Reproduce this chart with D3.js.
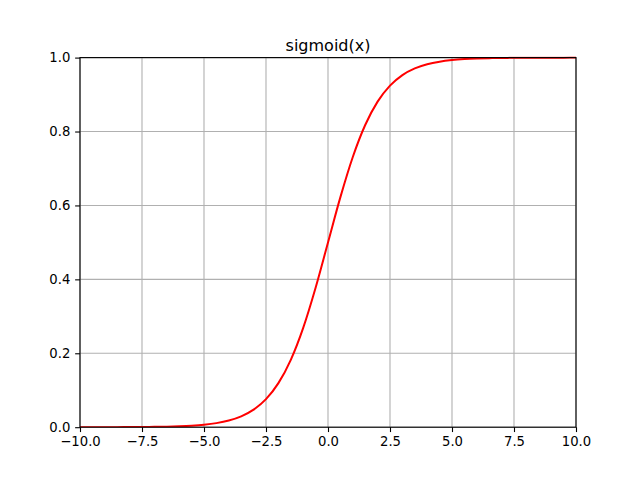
<!DOCTYPE html>
<html><head><meta charset="utf-8">
<script src="https://cdn.jsdelivr.net/npm/d3@7"></script>
<style>body{margin:0;background:#fff}svg{display:block}text{font-family:"DejaVu Sans",sans-serif}</style>
</head><body>
<script>
const xValues = [-10,-9.5,-9,-8.5,-8,-7.5,-7,-6.5,-6,-5.5,-5,-4.5,-4,-3.5,-3,-2.5,-2,-1.5,-1,-0.5,0,0.5,1,1.5,2,2.5,3,3.5,4,4.5,5,5.5,6,6.5,7,7.5,8,8.5,9,9.5,10];
const yValues = [0.00005,0.00007,0.00012,0.0002,0.00034,0.00055,0.00091,0.0015,0.0025,0.0041,0.0067,0.011,0.018,0.0293,0.0474,0.0759,0.1192,0.1824,0.2689,0.3775,0.5,0.6225,0.7311,0.8176,0.8808,0.9241,0.9526,0.9707,0.982,0.989,0.9933,0.9959,0.9975,0.9985,0.9991,0.9994,0.9997,0.9998,0.9999,0.9999,1.0];
const xTicks = [-10,-7.5,-5,-2.5,0,2.5,5,7.5,10];
const yTicks = [0,0.2,0.4,0.6,0.8,1.0];
const title = "sigmoid(x)";

const W=640,H=480, L=80,R=576,T=57.6,B=427.2;
const svg=d3.select("body").append("svg").attr("width",W).attr("height",H);
const x=d3.scaleLinear().domain([-10,10]).range([L,R]);
const y=d3.scaleLinear().domain([0,1]).range([B,T]);
const fmt=v=>(v<0?"\u2212":"")+Math.abs(v).toFixed(1);

// grid
svg.append("g").selectAll("line").data(xTicks).join("line")
 .attr("x1",d=>x(d)).attr("x2",d=>x(d)).attr("y1",T).attr("y2",B)
 .attr("stroke","#b0b0b0").attr("stroke-width",1.1);
svg.append("g").selectAll("line").data(yTicks).join("line")
 .attr("y1",d=>y(d)).attr("y2",d=>y(d)).attr("x1",L).attr("x2",R)
 .attr("stroke","#b0b0b0").attr("stroke-width",1.1);

svg.append("clipPath").attr("id","clip").append("rect").attr("x",L).attr("y",T-1).attr("width",R-L).attr("height",B-T+1);
const data=xValues.map((v,i)=>[v,yValues[i]]);
svg.append("path").datum(data).attr("clip-path","url(#clip)")
 .attr("d",d3.line().x(d=>x(d[0])).y(d=>y(d[1])).curve(d3.curveMonotoneX))
 .attr("fill","none").attr("stroke","red").attr("stroke-width",2);

const xa=svg.append("g").attr("transform",`translate(0,${B})`)
 .call(d3.axisBottom(x).tickValues(xTicks).tickFormat(fmt).tickSize(4.86).tickPadding(4.86));
const ya=svg.append("g").attr("transform",`translate(${L},0)`)
 .call(d3.axisLeft(y).tickValues(yTicks).tickFormat(d=>d.toFixed(1)).tickSize(4.86).tickPadding(4.86));
[xa,ya].forEach(a=>{a.select(".domain").remove();a.selectAll("line").attr("stroke","#000").attr("stroke-width",1.1);
 a.selectAll("text").attr("font-family","DejaVu Sans").attr("font-size","13.2px").attr("fill","#000");});

svg.append("rect").attr("x",L).attr("y",T).attr("width",R-L).attr("height",B-T)
 .attr("fill","none").attr("stroke","#000").attr("stroke-width",1.1);

svg.append("text").attr("x",(L+R)/2).attr("y",T-6.9).attr("text-anchor","middle")
 .attr("font-size","16px").attr("fill","#000").text(title);
</script>
</body></html>
